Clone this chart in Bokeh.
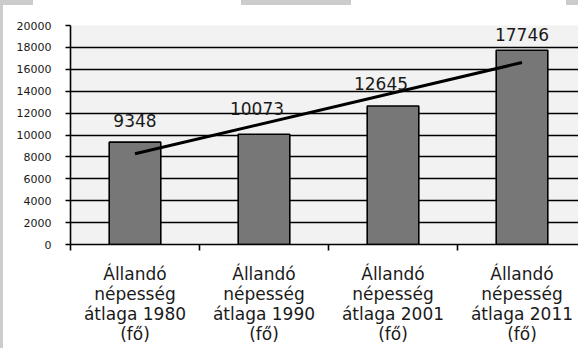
from bokeh.plotting import figure
from bokeh.models import ColumnDataSource, Range1d, FixedTicker
from bokeh.core.properties import value
from bokeh.embed import file_html
from bokeh.resources import INLINE

# Population averages per census year (persons)
years = ["1980", "1990", "2001", "2011"]
population = [9348, 10073, 12645, 17746]
category_labels = [
    "Állandó\nnépesség\nátlaga 1980\n(fő)",
    "Állandó\nnépesség\nátlaga 1990\n(fő)",
    "Állandó\nnépesség\nátlaga 2001\n(fő)",
    "Állandó\nnépesség\nátlaga 2011\n(fő)",
]
# Linear trend line end values (first and last category)
trend_values = [8290, 16620]
y_ticks = [0, 2000, 4000, 6000, 8000, 10000, 12000, 14000, 16000, 18000, 20000]

# Hand-placed value label nudges (pixels)
label_dx = [0, -7, -12, 0]
label_dy = [-22, -26, -23, -16]

FONT = "DejaVu Sans"
centers = [i + 0.5 for i in range(len(years))]

src = ColumnDataSource(dict(
    x=centers,
    top=population,
    text=[str(v) for v in population],
    dx=label_dx,
    dy=label_dy,
))

# light grey page strips behind the transparent border area
page_bg = ", ".join([
    "linear-gradient(#cccccc, #cccccc) 0px 0px / 3px 100% no-repeat",
    "linear-gradient(#cccccc, #cccccc) 0px 0px / 33px 5px no-repeat",
    "linear-gradient(#cccccc, #cccccc) 241px 0px / 110px 5px no-repeat",
    "linear-gradient(#cccccc, #cccccc) 566px 0px / 12px 5px no-repeat",
    "#ffffff",
])

p = figure(width=578, height=348, output_backend="svg", toolbar_location=None,
           x_range=Range1d(0, 508 / 129), y_range=Range1d(0, 20000),
           min_border_left=70, min_border_right=0, min_border_top=25,
           min_border_bottom=104, styles={"background": page_bg})

p.background_fill_color = "#f2f2f2"
p.border_fill_color = None
p.outline_line_color = None

# horizontal gridlines
p.xgrid.visible = False
p.ygrid.ticker = FixedTicker(ticks=y_ticks)
p.ygrid.grid_line_color = "black"
p.ygrid.grid_line_width = 1.6

# y axis
p.yaxis.ticker = FixedTicker(ticks=y_ticks)
p.yaxis.axis_line_color = "black"
p.yaxis.axis_line_width = 1.6
p.yaxis.major_tick_line_color = "black"
p.yaxis.major_tick_line_width = 1.6
p.yaxis.major_tick_in = 0
p.yaxis.major_tick_out = 5
p.yaxis.minor_tick_line_color = None
p.yaxis.major_label_standoff = 14
p.yaxis.major_label_text_font = FONT
p.yaxis.major_label_text_font_size = "11px"
p.yaxis.major_label_text_color = "#1a1a1a"

# x axis: labels at category centers, tick marks at category boundaries
p.xaxis.ticker = FixedTicker(ticks=centers, minor_ticks=[0, 1, 2, 3])
p.xaxis.major_label_overrides = {c: lab for c, lab in zip(centers, category_labels)}
p.xaxis.axis_line_color = "black"
p.xaxis.axis_line_width = 1.6
p.xaxis.major_tick_line_color = None
p.xaxis.major_tick_in = 0
p.xaxis.major_tick_out = 0
p.xaxis.minor_tick_line_color = "black"
p.xaxis.minor_tick_line_width = 1.6
p.xaxis.minor_tick_in = 0
p.xaxis.minor_tick_out = 6
p.xaxis.major_label_standoff = 13
p.xaxis.major_label_text_font = FONT
p.xaxis.major_label_text_font_size = "17px"
p.xaxis.major_label_text_line_height = 1.0
p.xaxis.major_label_text_color = "#1a1a1a"

# bars
p.vbar(x="x", top="top", width=0.4, bottom=0, source=src,
       fill_color="#777777", line_color="black", line_width=1.6)

# linear trend
p.line(x=[centers[0], centers[-1]], y=trend_values, line_color="black", line_width=3)

# value labels
p.text(x="x", y="top", text="text", source=src, x_offset="dx", y_offset="dy",
       text_align="center", text_baseline="middle",
       text_font=value(FONT), text_font_size="17px", text_color="#1a1a1a")

open("out.html", "w").write(file_html(p, INLINE))
